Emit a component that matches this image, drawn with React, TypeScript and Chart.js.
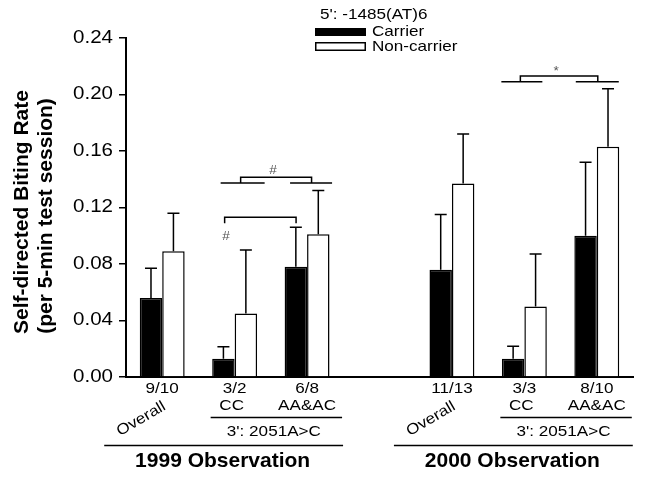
import React, { useEffect, useRef } from 'react';
import { Chart, registerables } from 'chart.js';

Chart.register(...registerables);

// ---------- data ----------
const categories = ['1999 Overall', '1999 CC', '1999 AA&AC', '', '2000 Overall', '2000 CC', '2000 AA&AC'];
const carrierMeans = [0.056, 0.013, 0.078, null, 0.076, 0.013, 0.100];
const carrierSEM = [0.021, 0.0085, 0.028, null, 0.039, 0.0087, 0.052];
const nonCarrierMeans = [0.089, 0.045, 0.101, null, 0.137, 0.050, 0.163];
const nonCarrierSEM = [0.027, 0.045, 0.031, null, 0.035, 0.037, 0.041];
const sampleSizes = ['9/10', '3/2', '6/8', '', '11/13', '3/3', '8/10'];
const genotypeLabels = ['', 'CC', 'AA&AC', '', '', 'CC', 'AA&AC'];
const yTicks = [0, 0.04, 0.08, 0.12, 0.16, 0.2, 0.24];
const years = ['1999 Observation', '2000 Observation'];
const legendTitle = "5': -1485(AT)6";
const seriesNames = ['Carrier', 'Non-carrier'];
const yTitle = ['Self-directed Biting Rate', '(per 5-min test session)'];
const subgroupTitle = "3': 2051A>C";
// significance brackets (values in data units)
const bracketValues = [
  { from: 1, to: 2, base: 0.1373, top: 0.1414, mark: '#' },
  { from: 5, to: 6, base: 0.2091, top: 0.2131, mark: '*' },
];
const innerBracket = { from: 1, to: 2, top: 0.1131, end: 0.1088, mark: '#' };

const SANS = '"Liberation Sans", Arial, sans-serif';
const STRETCH = 1.14;

function text(ctx: any, t: string, x: number, y: number, size: number, align: string, angle = 0) {
  ctx.save();
  ctx.font = `${size}px ${SANS}`;
  ctx.textAlign = align;
  ctx.textBaseline = 'middle';
  ctx.translate(x, y);
  if (angle) ctx.rotate(angle);
  ctx.scale(STRETCH, 1);
  ctx.fillText(t, 0, 0);
  ctx.restore();
}

const overlayPlugin = {
  id: 'overlay',
  afterDatasetsDraw(chart: any) {
    const ctx = chart.ctx;
    const xs = chart.scales.x;
    const ys = chart.scales.y;
    const cx = (i: number) => xs.getPixelForValue(i);
    ctx.save();
    ctx.strokeStyle = '#000';
    ctx.fillStyle = '#000';
    ctx.lineWidth = 1.5;

    // y tick labels
    yTicks.forEach((v) => {
      text(ctx, v.toFixed(2), 113, ys.getPixelForValue(v), 18, 'right');
    });

    // error bars
    const means = [carrierMeans, nonCarrierMeans];
    const sems = [carrierSEM, nonCarrierSEM];
    for (let d = 0; d < 2; d++) {
      const meta = chart.getDatasetMeta(d);
      meta.data.forEach((el: any, i: number) => {
        const m = means[d][i];
        const s = sems[d][i];
        if (m == null || s == null) return;
        const yTop = ys.getPixelForValue(m + s);
        const yBar = ys.getPixelForValue(m);
        ctx.beginPath();
        ctx.moveTo(el.x, yBar);
        ctx.lineTo(el.x, yTop);
        ctx.moveTo(el.x - 6, yTop);
        ctx.lineTo(el.x + 6, yTop);
        ctx.stroke();
      });
    }

    // outer brackets
    const bracketOffsets = [
      { lh: [-14, 30], up: 6, tr: 4.5, rh: [-17, 25] },
      { lh: [-23, 18], up: -4, tr: 1, rh: [-21, 22] },
    ];
    bracketValues.forEach((b, k) => {
      const o = bracketOffsets[k];
      const yb = ys.getPixelForValue(b.base);
      const yt = ys.getPixelForValue(b.top);
      const a = cx(b.from);
      const c = cx(b.to);
      ctx.beginPath();
      ctx.moveTo(a + o.lh[0], yb);
      ctx.lineTo(a + o.lh[1], yb);
      ctx.moveTo(a + o.up, yb);
      ctx.lineTo(a + o.up, yt);
      ctx.lineTo(c + o.tr, yt);
      ctx.lineTo(c + o.tr, yb);
      ctx.moveTo(c + o.rh[0], yb);
      ctx.lineTo(c + o.rh[1], yb);
      ctx.stroke();
      ctx.fillStyle = '#555';
      const mx = (a + o.up + c + o.tr) / 2 - 3;
      text(ctx, b.mark, mx, yt - 7 + (b.mark === '*' ? 3 : 0), 12, 'center');
      ctx.fillStyle = '#000';
    });

    // inner bracket
    {
      const a = cx(innerBracket.from) - 10;
      const c = cx(innerBracket.to) - 11;
      const yt = ys.getPixelForValue(innerBracket.top);
      const ye = ys.getPixelForValue(innerBracket.end);
      ctx.beginPath();
      ctx.moveTo(a, ye);
      ctx.lineTo(a, yt);
      ctx.lineTo(c, yt);
      ctx.lineTo(c, ye);
      ctx.stroke();
      ctx.fillStyle = '#555';
      text(ctx, innerBracket.mark, a + 1.5, yt + 19, 12, 'center');
      ctx.fillStyle = '#000';
    }

    // legend
    text(ctx, legendTitle, 320, 15, 15, 'left');
    ctx.fillRect(315, 28, 51, 8);
    ctx.strokeRect(315.75, 42.75, 49.5, 7.5);
    text(ctx, seriesNames[0], 372, 32, 15, 'left');
    text(ctx, seriesNames[1], 372, 46.5, 15, 'left');

    // y-axis title
    ctx.font = `bold 21px ${SANS}`;
    ctx.textAlign = 'center';
    ctx.textBaseline = 'alphabetic';
    ctx.save();
    ctx.translate(28, 212);
    ctx.rotate(-Math.PI / 2);
    ctx.fillText(yTitle[0], 0, 0);
    ctx.restore();
    ctx.save();
    ctx.translate(52, 216);
    ctx.rotate(-Math.PI / 2);
    ctx.fillText(yTitle[1], 0, 0);
    ctx.restore();

    // x labels
    sampleSizes.forEach((s, i) => {
      if (s) text(ctx, s, cx(i), 388.5, 15, 'center');
    });
    genotypeLabels.forEach((g, i) => {
      if (g) text(ctx, g, cx(i) + (g === 'CC' ? -3 : 0), 405.5, 15, 'center');
    });
    const groups = [0, 4];
    groups.forEach((g0, k) => {
      const ov = cx(g0);
      const cc = cx(g0 + 1);
      const aa = cx(g0 + 2);
      text(ctx, 'Overall', ov - 21, 419, 15, 'center', -30.6 * Math.PI / 180);
      ctx.beginPath();
      ctx.moveTo(cc - 24, 417.5);
      ctx.lineTo(aa + 35, 417.5);
      ctx.stroke();
      text(ctx, subgroupTitle, (cc + aa) / 2 + 3, 432, 15, 'center');
      ctx.beginPath();
      ctx.moveTo(ov - 58, 445.5);
      ctx.lineTo(aa + 36, 445.5);
      ctx.stroke();
      ctx.save();
      ctx.font = `bold 21px ${SANS}`;
      ctx.textAlign = 'center';
      ctx.textBaseline = 'middle';
      ctx.fillText(years[k], (ov - 58 + aa + 36) / 2 - 1, 461);
      ctx.restore();
    });

    ctx.restore();
  },
};

export default function App() {
  const ref = useRef<HTMLCanvasElement | null>(null);
  useEffect(() => {
    if (!ref.current) return;
    const chart = new Chart(ref.current, {
      type: 'bar',
      data: {
        labels: categories,
        datasets: [
          {
            label: seriesNames[0],
            data: carrierMeans as any,
            backgroundColor: '#000',
            borderColor: '#000',
            borderWidth: 1.5,
          },
          {
            label: seriesNames[1],
            data: nonCarrierMeans as any,
            backgroundColor: '#fff',
            borderColor: '#000',
            borderWidth: 1.5,
          },
        ],
      },
      options: {
        responsive: false,
        animation: false,
        devicePixelRatio: 1,
        layout: { padding: { top: 38, right: 12, bottom: 102, left: 0 } },
        datasets: { bar: { categoryPercentage: 0.62, barPercentage: 1.0 } },
        plugins: { legend: { display: false }, tooltip: { enabled: false }, title: { display: false } },
        scales: {
          x: {
            type: 'category',
            offset: true,
            grid: { display: false, drawTicks: false },
            ticks: { display: false },
            border: { display: true, color: '#000', width: 2 },
            afterFit: (s: any) => { s.height = 0; },
          },
          y: {
            min: 0,
            max: 0.24,
            afterBuildTicks: (s: any) => { s.ticks = yTicks.map((v) => ({ value: v })); },
            ticks: { display: false },
            grid: { display: true, drawOnChartArea: false, drawTicks: true, tickLength: 7, color: '#000', lineWidth: 1.5 },
            border: { display: true, color: '#000', width: 2 },
            afterFit: (s: any) => { s.width = 126; },
          },
        },
      },
      plugins: [overlayPlugin],
    });
    return () => chart.destroy();
  }, []);
  return (
    <div style={{ position: 'fixed', left: 0, top: 0, width: 645, height: 479, background: '#fff' }}>
      <canvas ref={ref} width={645} height={479} style={{ display: 'block' }} />
    </div>
  );
}
